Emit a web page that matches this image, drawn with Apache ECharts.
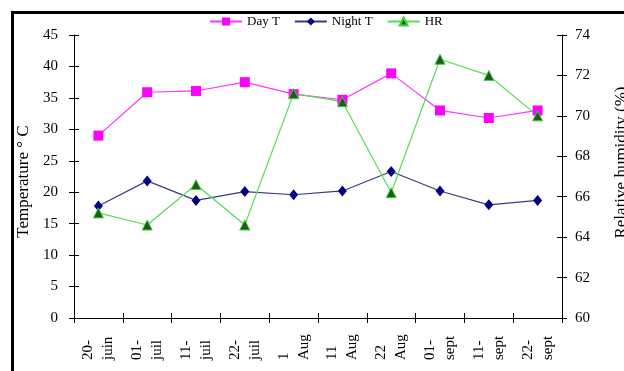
<!DOCTYPE html>
<html><head><meta charset="utf-8">
<script src="https://cdn.jsdelivr.net/npm/echarts@6/dist/echarts.min.js"></script>
<style>html,body{margin:0;padding:0;background:#fff}#c{width:624px;height:371px}</style>
</head><body><div id="c"></div>
<script>
const categories = ['20-\njuin','01-\njuil','11-\njuil','22-\njuil','1\nAug','11\nAug','22\nAug','01-\nsept','11-\nsept','22-\nsept'];
const dayT = [29.0, 35.9, 36.1, 37.5, 35.6, 34.7, 38.9, 33.0, 31.8, 33.0];
const nightT = [17.8, 21.8, 18.7, 20.1, 19.6, 20.2, 23.3, 20.2, 18.0, 18.7];
const hr = [65.2, 64.6, 66.6, 64.6, 71.1, 70.7, 66.2, 72.8, 72.0, 70.0];
const tempTicks = [0, 45, 5];
const hrTicks = [60, 74, 2];

const font = 'Liberation Serif';
const chart = echarts.init(document.getElementById('c'));
const axLine = {show: true, lineStyle: {color: '#000', width: 1}};
chart.setOption({
  animation: false,
  textStyle: {fontFamily: font},
  graphic: [{type: 'rect', left: 10, top: 10, shape: {width: 700, height: 500},
    style: {fill: 'none', stroke: '#000', lineWidth: 3}, silent: true}],
  legend: {
    top: 10, left: 204, itemWidth: 32, itemHeight: 10, itemGap: 14,
    textStyle: {fontFamily: font, fontSize: 13, color: '#000'},
    data: ['Day T', 'Night T', 'HR']
  },
  grid: {left: 74, right: 62, top: 35, bottom: 53, containLabel: false, outerBoundsMode: 'none'},
  xAxis: [{
    type: 'category', data: categories, boundaryGap: true,
    axisLine: axLine,
    axisTick: {show: true, length: 5, lineStyle: {color: '#000'}, inside: false},
    axisLabel: {rotate: 90, margin: 14, fontSize: 15, color: '#000', fontFamily: font,
      formatter: v => v.split('\n').map(s => '{a|' + s + '}').join('\n'),
      rich: {a: {width: 28, align: 'left', fontSize: 15, fontFamily: font, color: '#000', lineHeight: 20}}},
    splitLine: {show: false}
  }, {
    type: 'category', data: categories, boundaryGap: true, position: 'bottom',
    axisLine: {show: false}, axisTick: {show: true, inside: true, length: 5, lineStyle: {color: '#000'}},
    axisLabel: {show: false}, splitLine: {show: false}
  }],
  yAxis: [{
    type: 'value', min: tempTicks[0], max: tempTicks[1], interval: tempTicks[2],
    name: 'Temperature ° C', nameLocation: 'middle', nameGap: 40, nameRotate: 90,
    nameTextStyle: {fontFamily: font, fontSize: 17, color: '#000', padding: [0, 10, 0, 0]},
    axisLine: axLine, axisTick: {show: true, length: 5, lineStyle: {color: '#000'}},
    axisLabel: {fontSize: 15, color: '#000', margin: 16, fontFamily: font},
    splitLine: {show: false}
  }, {
    type: 'value', min: hrTicks[0], max: hrTicks[1], interval: hrTicks[2], position: 'right',
    name: 'Relative humidity (%)', nameLocation: 'middle', nameGap: 51, nameRotate: 90,
    nameTextStyle: {fontFamily: font, fontSize: 17, color: '#000', padding: [0, 0, 0, 28]},
    axisLine: axLine, axisTick: {show: true, length: 5, lineStyle: {color: '#000'}},
    axisLabel: {fontSize: 15, color: '#000', margin: 13, fontFamily: font},
    splitLine: {show: false}
  }, {
    type: 'value', min: tempTicks[0], max: tempTicks[1], interval: tempTicks[2], position: 'left',
    axisLine: {show: false}, axisTick: {show: true, inside: true, length: 5, lineStyle: {color: '#000'}},
    axisLabel: {show: false}, splitLine: {show: false}
  }, {
    type: 'value', min: hrTicks[0], max: hrTicks[1], interval: hrTicks[2], position: 'right',
    axisLine: {show: false}, axisTick: {show: true, inside: true, length: 5, lineStyle: {color: '#000'}},
    axisLabel: {show: false}, splitLine: {show: false}
  }],
  series: [{
    name: 'Day T', type: 'line', data: dayT, yAxisIndex: 0,
    symbol: 'rect', symbolSize: 10,
    lineStyle: {color: '#ff33ff', width: 1.2}, itemStyle: {color: '#ff00ff'}
  }, {
    name: 'Night T', type: 'line', data: nightT, yAxisIndex: 0,
    symbol: 'diamond', symbolSize: [9, 11],
    lineStyle: {color: '#3a3a80', width: 1.2}, itemStyle: {color: '#000080'}
  }, {
    name: 'HR', type: 'line', data: hr, yAxisIndex: 1,
    symbol: 'triangle', symbolSize: 10,
    lineStyle: {color: '#55dd55', width: 1.2},
    itemStyle: {color: '#1e5c14', borderColor: '#44cc44', borderWidth: 1}
  }]
});
</script></body></html>
